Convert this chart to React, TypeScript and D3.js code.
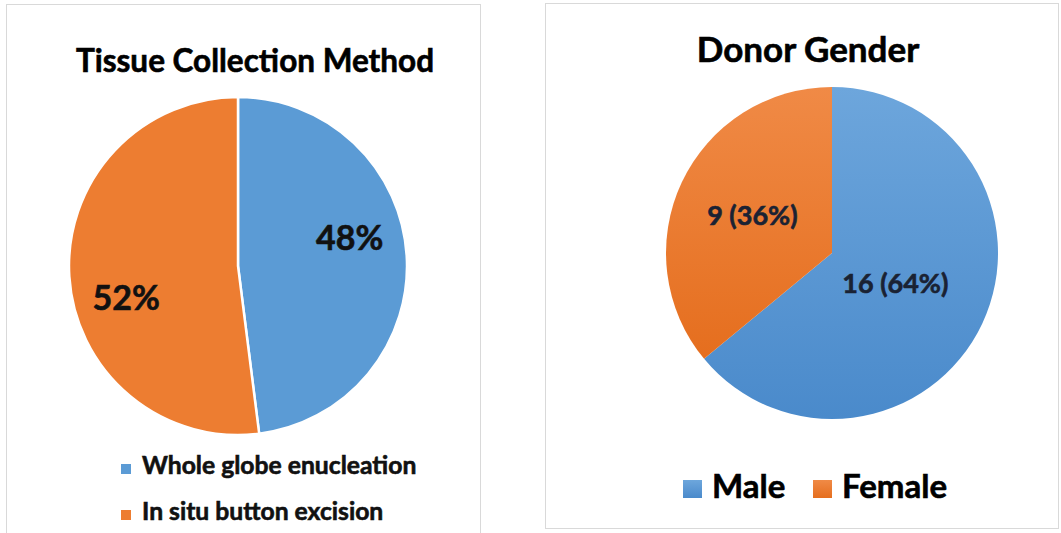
import React from 'react';
import * as d3 from 'd3';

// Left chart: tissue collection method (percent)
const methodNames = ['Whole globe enucleation', 'In situ button excision'];
const methodShares = [48, 52];

// Right chart: donor gender (counts)
const genderNames = ['Male', 'Female'];
const genderCounts = [16, 9];

const BLUE = '#5B9BD5';
const ORANGE = '#ED7D31';
const FONT = 'Lato, "Open Sans", sans-serif';

const App: React.FC = () => {
  const colors = [BLUE, ORANGE];
  const bold = { fontWeight: 'bold' as const, stroke: 'currentColor', strokeWidth: 0.6 };

  // ---- left pie
  const lc = { x: 238, y: 266, r: 169 };
  const pie = d3.pie<number>().sort(null).value((d) => d);
  const leftArcs = pie(methodShares);
  const leftArc = d3.arc<d3.PieArcDatum<number>>().innerRadius(0).outerRadius(lc.r);
  const leftLabelArc = d3.arc<d3.PieArcDatum<number>>().innerRadius(112).outerRadius(112);
  const leftNudge = [-21, 25];

  // ---- right pie
  const rc = { x: 832, y: 253, r: 166 };
  const rightArcs = pie(genderCounts);
  const rightArc = d3.arc<d3.PieArcDatum<number>>().innerRadius(0).outerRadius(rc.r);
  const rightLabelR = [70, 88];
  const total = d3.sum(genderCounts);

  return (
    <svg
      width={1061}
      height={533}
      style={{ position: 'absolute', left: 0, top: 0, background: '#fff' }}
      fontFamily={FONT}
    >
      <defs>
        <linearGradient id="gBlue" x1="0" y1="0" x2="0" y2="1">
          <stop offset="0" stopColor="#6DA6DC" />
          <stop offset="1" stopColor="#4A8ACB" />
        </linearGradient>
        <linearGradient id="gOrange" x1="0" y1="0" x2="0" y2="1">
          <stop offset="0" stopColor="#F08A46" />
          <stop offset="1" stopColor="#E56E1E" />
        </linearGradient>
      </defs>

      {/* panel frames */}
      <rect x={6.5} y={4.5} width={474} height={540} fill="#fff" stroke="#d9d9d9" />
      <rect x={545.5} y={3.5} width={513} height={525} fill="#fff" stroke="#d9d9d9" />

      {/* ---------- left chart ---------- */}
      <text x={255} y={72} textAnchor="middle" fontSize={31.5} color="#000" fill="#000" {...bold}>
        Tissue Collection Method
      </text>
      <g transform={`translate(${lc.x},${lc.y})`}>
        {leftArcs.map((a, i) => (
          <path key={i} d={leftArc(a) || ''} fill={colors[i]} stroke="#fff" strokeWidth={2.5} />
        ))}
        {leftArcs.map((a, i) => {
          const [x, y] = leftLabelArc.centroid(a);
          return (
            <text
              key={i}
              x={x}
              y={y + leftNudge[i]}
              dy="0.36em"
              textAnchor="middle"
              fontSize={34}
              color="#111"
              fill="#111"
              {...bold}
            >
              {methodShares[i]}%
            </text>
          );
        })}
      </g>
      {methodNames.map((name, i) => (
        <g key={name} transform={`translate(121,${464 + i * 46})`}>
          <rect width={10} height={10} fill={colors[i]} />
          <text x={21} y={10} fontSize={24.7} color="#111" fill="#111" {...bold}>
            {name}
          </text>
        </g>
      ))}

      {/* ---------- right chart ---------- */}
      <text x={808} y={62} textAnchor="middle" fontSize={35} color="#000" fill="#000" {...bold}>
        Donor Gender
      </text>
      <g transform={`translate(${rc.x},${rc.y})`}>
        {rightArcs.map((a, i) => (
          <path key={i} d={rightArc(a) || ''} fill={i === 0 ? 'url(#gBlue)' : 'url(#gOrange)'} />
        ))}
        {rightArcs.map((a, i) => {
          const [x, y] = d3
            .arc<d3.PieArcDatum<number>>()
            .innerRadius(rightLabelR[i])
            .outerRadius(rightLabelR[i])
            .centroid(a);
          return (
            <text
              key={i}
              x={x}
              y={y}
              dy="0.36em"
              textAnchor="middle"
              fontSize={27}
              color="#1a2233"
              fill="#1a2233"
              {...bold}
            >
              {`${genderCounts[i]} (${Math.round((genderCounts[i] / total) * 100)}%)`}
            </text>
          );
        })}
      </g>
      {genderNames.map((name, i) => (
        <g key={name} transform={`translate(${683 + i * 130},480)`}>
          <rect width={19} height={18} fill={i === 0 ? 'url(#gBlue)' : 'url(#gOrange)'} />
          <text x={29} y={18} fontSize={33} color="#000" fill="#000" {...bold}>
            {name}
          </text>
        </g>
      ))}
    </svg>
  );
};

export default App;
